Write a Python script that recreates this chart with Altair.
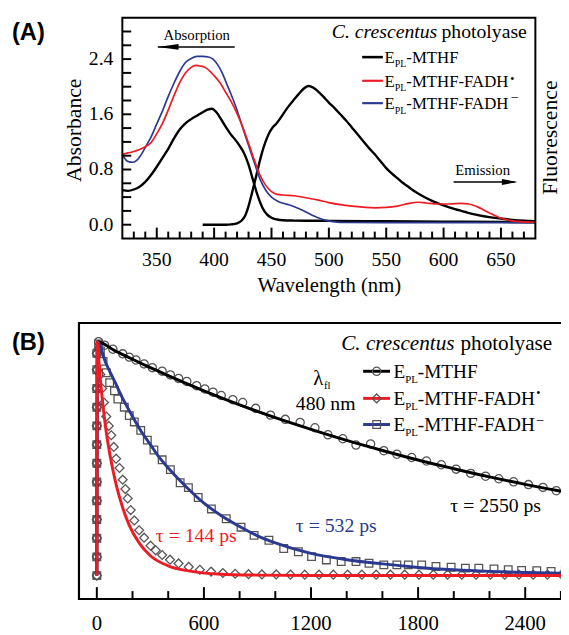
import altair as alt
import pandas as pd

# ---------------- Panel A : spectra ----------------
abs_mthf_wl = [320,325,330,335,340,345,350,355,360,365,370,375,380,385,390,395,398,402,406,410,
               414,418,422,426,430,434,438,442,446,450,455,460,470,480,500,550,600,650,680]
abs_mthf = [0.50,0.49,0.51,0.55,0.62,0.72,0.84,0.97,1.10,1.25,1.38,1.47,1.53,1.58,1.63,1.67,1.68,1.63,1.53,1.42,
            1.32,1.24,1.15,1.04,0.87,0.64,0.42,0.25,0.15,0.10,0.075,0.065,0.06,0.058,0.055,0.05,0.045,0.04,0.035]

abs_rad_wl = [320,325,330,335,340,345,350,355,360,365,370,375,380,384,388,392,396,400,405,410,415,420,425,430,
              435,440,445,450,455,460,470,480,490,500,510,520,530,540,550,560,570,578,585,595,605,615,622,630,
              640,650,660,670,680]
abs_rad = [1.02,1.04,1.06,1.09,1.13,1.19,1.32,1.47,1.66,1.87,2.06,2.20,2.28,2.31,2.30,2.28,2.23,2.16,2.06,1.92,1.78,1.61,1.41,1.18,
           0.94,0.72,0.57,0.48,0.44,0.43,0.42,0.39,0.36,0.32,0.29,0.27,0.255,0.245,0.25,0.27,0.31,0.325,0.315,0.30,0.30,0.31,0.30,0.255,
           0.17,0.095,0.055,0.04,0.035]

abs_ani_wl = [320,323,326,329,333,337,341,345,350,355,360,365,370,375,380,385,390,395,399,403,407,411,415,420,425,
              430,435,440,445,450,455,460,465,470,475,480,485,490,495,500,505,515,550,600,680]
abs_ani = [1.02,0.94,0.91,0.905,0.94,1.03,1.15,1.27,1.46,1.65,1.86,2.05,2.22,2.35,2.41,2.44,2.44,2.43,2.40,2.32,2.20,2.04,1.88,1.66,1.40,
           1.15,0.90,0.66,0.50,0.40,0.345,0.31,0.29,0.26,0.225,0.185,0.14,0.105,0.075,0.055,0.04,0.032,0.03,0.03,0.03]

em_mthf_wl = [390,400,410,415,420,424,427,430,433,436,439,442,445,448,451,454,458,462,466,470,474,478,482,486,490,495,500,
              505,510,515,520,525,530,535,540,545,550,555,560,565,570,575,580,590,600,610,620,630,640,650,660,670,680]
em_mthf = [0.0,0.0,0.0,0.005,0.02,0.06,0.13,0.27,0.46,0.66,0.87,1.06,1.21,1.33,1.41,1.46,1.55,1.65,1.74,1.82,1.90,1.97,2.01,1.99,1.94,1.86,1.77,
           1.69,1.60,1.51,1.41,1.31,1.21,1.11,1.02,0.92,0.82,0.74,0.67,0.60,0.54,0.48,0.43,0.345,0.28,0.225,0.18,0.14,0.11,0.09,0.07,0.058,0.052]

xA_labels = [350, 400, 450, 500, 550, 600, 650]
yA_labels = [0.0, 0.8, 1.6, 2.4]
xA_major = [350, 400, 450, 500, 550, 600, 650]
xA_minor = [330,340,360,370,380,390,410,420,430,440,460,470,480,490,510,520,530,540,560,570,580,590,610,620,630,640,660,670]
yA_ticks = [0.0,0.2,0.4,0.6,0.8,1.0,1.2,1.4,1.6,1.8,2.0,2.2,2.4,2.6,2.8]

# ---------------- Panel B : fluorescence decays ----------------
t_mthf = [0,0,0,0,0,0,0,0,0,0,0,0,0,
          10,44,90,145,182,219,265,311,366,412,458,504,559,605,651,697,762,817,890,973,
          1056,1139,1222,1295,1378,1452,1534,1608,1681,1764,1847,1930,2013,2095,2178,2252,2335,2418,2500,2574,2655]
v_mthf = [0.0,0.08,0.16,0.24,0.32,0.40,0.48,0.56,0.64,0.72,0.80,0.88,0.95,
          1.0,0.985,0.968,0.948,0.934,0.922,0.905,0.889,0.874,0.858,0.843,0.830,0.812,0.798,0.784,0.770,0.752,0.740,0.715,0.686,
          0.668,0.655,0.632,0.602,0.585,0.558,0.563,0.534,0.519,0.505,0.490,0.474,0.455,0.437,0.425,0.414,0.401,0.389,0.377,0.363,0.350]

t_rad = [0,0,0,0,0,0,0,0,0,0,0,0,0,
         10,20,30,40,53,67,81,95,108,127,145,160,173,190,210,237,265,301,330,366,
         410,458,515,577,640,706,775,850,925,1005,1085,1165,1245,1325,1405,1485,1565,1645,1725,1805,
         1885,1965,2045,2125,2205,2285,2365,2445,2525,2605,2685]
v_rad = [0.0,0.08,0.16,0.24,0.32,0.40,0.48,0.56,0.64,0.72,0.80,0.88,0.95,
         0.97,0.86,0.80,0.74,0.68,0.64,0.60,0.55,0.50,0.46,0.41,0.37,0.33,0.28,0.236,0.194,0.162,0.128,0.108,0.088,
         0.068,0.052,0.037,0.025,0.017,0.011,0.008,0.006,0.005,0.005,0.004,0.004,0.004,0.004,0.004,0.004,0.004,0.004,0.004,0.004,
         0.004,0.004,0.004,0.004,0.004,0.004,0.004,0.004,0.004,0.004,0.004]

t_ani = [0,0,0,0,0,0,0,0,0,0,0,0,0,
         10,20,35,53,72,99,118,154,182,210,246,283,320,366,412,467,513,568,642,725,
         808,881,964,1047,1129,1203,1286,1369,1452,1525,1608,1681,1745,1820,1900,1985,2065,2140,2225,2305,
         2380,2465,2545,2625]
v_ani = [0.0,0.08,0.16,0.24,0.32,0.40,0.48,0.56,0.64,0.72,0.80,0.88,0.95,
         0.99,0.96,0.916,0.867,0.825,0.79,0.755,0.72,0.684,0.657,0.621,0.579,0.537,0.495,0.453,0.397,0.376,0.334,0.285,0.243,
         0.207,0.172,0.151,0.116,0.102,0.081,0.067,0.060,0.060,0.053,0.046,0.046,0.046,0.046,0.039,0.036,0.032,0.032,0.028,0.025,
         0.022,0.021,0.018,0.018]

fit_mthf_t = [0,3,100,200,300,400,500,600,800,1000,1200,1400,1600,1800,2000,2200,2400,2600,2700]
fit_mthf_v = [0.0,1.0,0.962,0.925,0.889,0.855,0.822,0.79,0.73,0.675,0.625,0.578,0.535,0.494,0.457,0.422,0.39,0.361,0.347]
fit_rad_t = [0,3,15,30,50,75,108,145,182,237,300,400,514,697,900,1200,2700]
fit_rad_v = [0.0,1.0,0.88,0.76,0.63,0.51,0.39,0.29,0.215,0.14,0.085,0.042,0.02,0.006,0.002,0.0,0.0]
fit_ani_t = [0,3,50,100,150,200,250,300,350,400,500,600,700,800,900,1000,1200,1400,1600,1800,2000,2200,2400,2700]
fit_ani_v = [0.0,1.0,0.91,0.83,0.75,0.68,0.615,0.56,0.505,0.46,0.38,0.31,0.255,0.21,0.17,0.14,0.095,0.068,0.05,0.035,0.025,0.018,0.013,0.009]

xB_labels = [0, 600, 1200, 1800, 2400]
xB_major = [0, 600, 1200, 1800, 2400]
xB_minor = [200, 400, 800, 1000, 1400, 1600, 2000, 2200, 2600]

# ---------------- styling / layout ----------------
SERIF = "Liberation Serif"
SANS = "Liberation Sans"
RED = "#ed1c24"
BLUE = "#2b3990"
GRAY = "#555555"

CANVAS_W, CANVAS_H = 561, 627
# plot rectangles in canvas pixels (left, top, width, height)
A_L, A_T, WA, HA = 116, 5.3, 419, 224
B_L, B_T, WB, HB = 72, 315, 507, 280
xA_dom, yA_dom = [320, 680], [-0.2, 3.0]
xB_dom, yB_dom = [-100, 2700], [-0.1, 1.08]
xA = alt.Scale(domain=xA_dom, range=[A_L, A_L + WA], nice=False, zero=False)
yA = alt.Scale(domain=yA_dom, range=[A_T + HA, A_T], nice=False, zero=False)
xB = alt.Scale(domain=xB_dom, range=[B_L, B_L + WB], nice=False, zero=False)
yB = alt.Scale(domain=yB_dom, range=[B_T + HB, B_T], nice=False, zero=False)


def conv(dom, size, invert=False):
    lo, hi = dom
    if invert:
        return lambda p: hi - p * (hi - lo) / size
    return lambda p: lo + p * (hi - lo) / size


axA, ayA = conv(xA_dom, WA), conv(yA_dom, HA, True)
axB, ayB = conv(xB_dom, WB), conv(yB_dom, HB, True)


def line(xs, ys, xsc, ysc, color, sw):
    df = pd.DataFrame({"x": xs, "y": ys})
    return alt.Chart(df).mark_line(color=color, strokeWidth=sw, interpolate="monotone").encode(
        x=alt.X("x:Q", scale=xsc, axis=None), y=alt.Y("y:Q", scale=ysc, axis=None))


def frame(xdom, ydom, xsc, ysc, sw=2):
    df = pd.DataFrame({"x0": [xdom[0]], "x1": [xdom[1]], "y0": [ydom[0]], "y1": [ydom[1]]})
    return alt.Chart(df).mark_rect(fillOpacity=0, stroke="black", strokeWidth=sw).encode(
        x=alt.X("x0:Q", scale=xsc, axis=None), x2="x1:Q",
        y=alt.Y("y0:Q", scale=ysc, axis=None), y2="y1:Q")


def xticks(vals, xsc, ysc, y0, y1, sw=2):
    df = pd.DataFrame({"v": vals, "a": [y0] * len(vals), "b": [y1] * len(vals)})
    return alt.Chart(df).mark_rule(color="black", strokeWidth=sw).encode(
        x=alt.X("v:Q", scale=xsc, axis=None),
        y=alt.Y("a:Q", scale=ysc, axis=None), y2="b:Q")


def yticks(vals, xsc, ysc, x0, x1, sw=2):
    df = pd.DataFrame({"v": vals, "a": [x0] * len(vals), "b": [x1] * len(vals)})
    return alt.Chart(df).mark_rule(color="black", strokeWidth=sw).encode(
        y=alt.Y("v:Q", scale=ysc, axis=None),
        x=alt.X("a:Q", scale=xsc, axis=None), x2="b:Q")


def texts_data(df, xsc, ysc, **kw):
    return alt.Chart(df).mark_text(**kw).encode(
        x=alt.X("x:Q", scale=xsc, axis=None), y=alt.Y("y:Q", scale=ysc, axis=None),
        text="label:N",
        size=alt.Size("fs:Q", scale=None, legend=None),
        color=alt.Color("col:N", scale=None, legend=None))


def texts(rows, xsc, ysc, cx, cy, **kw):
    df = pd.DataFrame(rows, columns=["label", "px", "py", "fs", "col"])
    df["x"] = [cx(p) for p in df["px"]]
    df["y"] = [cy(p) for p in df["py"]]
    return texts_data(df, xsc, ysc, **kw)


def segs(rows, xsc, ysc, cx, cy):
    df = pd.DataFrame(rows, columns=["x0", "x1", "py", "col", "sw"])
    df["xa"] = [cx(p) for p in df["x0"]]
    df["xb"] = [cx(p) for p in df["x1"]]
    df["y"] = [cy(p) for p in df["py"]]
    return alt.Chart(df).mark_rule().encode(
        x=alt.X("xa:Q", scale=xsc, axis=None), x2="xb:Q",
        y=alt.Y("y:Q", scale=ysc, axis=None),
        color=alt.Color("col:N", scale=None, legend=None),
        strokeWidth=alt.StrokeWidth("sw:Q", scale=None, legend=None))


# ---------- Panel A ----------
xlabA = pd.DataFrame({"label": [str(v) for v in xA_labels], "x": xA_labels,
                      "y": [ayA(252)] * len(xA_labels), "fs": [20] * len(xA_labels),
                      "col": ["black"] * len(xA_labels)})
ylabA = pd.DataFrame({"label": [f"{v:.1f}" for v in yA_labels], "x": [axA(-9)] * len(yA_labels),
                      "y": yA_labels, "fs": [20] * len(yA_labels), "col": ["black"] * len(yA_labels)})

layersA = [
    line(abs_mthf_wl, abs_mthf, xA, yA, "black", 2.4),
    line(em_mthf_wl, em_mthf, xA, yA, "black", 2.4),
    line(abs_ani_wl, abs_ani, xA, yA, BLUE, 1.7),
    line(abs_rad_wl, abs_rad, xA, yA, RED, 1.7),
    xticks(xA_major, xA, yA, -0.2, -0.2 + 11 * 3.2 / HA),
    xticks(xA_minor, xA, yA, -0.2, -0.2 + 7 * 3.2 / HA),
    yticks(yA_ticks, xA, yA, 320, 320 + 9 * 360 / WA),
    frame(xA_dom, yA_dom, xA, yA),
    texts_data(xlabA, xA, yA, align="center", baseline="alphabetic", font=SERIF),
    texts_data(ylabA, xA, yA, align="right", baseline="middle", font=SERIF),
    texts([("Wavelength (nm)", 210, 278.4, 21, "black")], xA, yA, axA, ayA,
          align="center", baseline="alphabetic", font=SERIF),
    texts([("Absorbance", -42.3, 114.2, 22, "black")], xA, yA, axA, ayA,
          align="center", baseline="alphabetic", font=SERIF, angle=270),
    # arrows
    segs([(36, 114, 29.7, "black", 1.5), (336, 398, 166.7, "black", 1.5)], xA, yA, axA, ayA),
]
arrow_left = pd.DataFrame({"x": [axA(46.5)], "y": [ayA(29.7)]})
arrow_right = pd.DataFrame({"x": [axA(393)], "y": [ayA(166.7)]})
layersA += [
    alt.Chart(arrow_left).mark_point(shape="M -1 0 L 1 -0.28 L 1 0.28 Z", filled=True, size=441,
                                     color="black", opacity=1, strokeWidth=0).encode(
        x=alt.X("x:Q", scale=xA, axis=None), y=alt.Y("y:Q", scale=yA, axis=None)),
    alt.Chart(arrow_right).mark_point(shape="M 1 0 L -1 -0.38 L -1 0.38 Z", filled=True, size=256,
                                      color="black", opacity=1, strokeWidth=0).encode(
        x=alt.X("x:Q", scale=xA, axis=None), y=alt.Y("y:Q", scale=yA, axis=None)),
]
legA_rows = [40, 64, 86.7]
layersA += [
    segs([(243.3, 264.3, legA_rows[0], "black", 2.6),
          (243.3, 264.3, legA_rows[1], RED, 2.2),
          (243.3, 264.3, legA_rows[2], BLUE, 2.2)], xA, yA, axA, ayA),
    texts([("C. crescentus", 319.5, 21, 20, "black")], xA, yA, axA, ayA,
          align="right", baseline="alphabetic", font=SERIF, fontStyle="italic"),
    texts([("photolyase", 323.7, 21, 20, "black"),
           ("E", 266, legA_rows[0] + 6, 17, "black"),
           ("E", 266, legA_rows[1] + 6, 17, "black"),
           ("E", 266, legA_rows[2] + 6, 17, "black"),
           ("PL", 276.4, legA_rows[0] + 10.5, 10, "black"),
           ("PL", 276.4, legA_rows[1] + 10.5, 10, "black"),
           ("PL", 276.4, legA_rows[2] + 10.5, 10, "black"),
           ("-MTHF", 288.1, legA_rows[0] + 6, 17, "black"),
           ("-MTHF-FADH", 288.1, legA_rows[1] + 6, 17, "black"),
           ("-MTHF-FADH", 288.1, legA_rows[2] + 6, 17, "black"),
           ("•", 393.5, 66.1, 12, "black"),
           ("−", 394, 85.2, 14, "black")], xA, yA, axA, ayA,
          align="left", baseline="alphabetic", font=SERIF),
    texts([("Absorption", 75.5, 22.7, 15, "black"),
           ("Emission", 365.5, 159.4, 15, "black")], xA, yA, axA, ayA,
          align="center", baseline="alphabetic", font=SERIF),
    texts([("(A)", -112, 22.7, 24, "black")], xA, yA, axA, ayA,
          align="left", baseline="alphabetic", font=SANS, fontWeight="bold"),
    texts([("Fluorescence", 440.5, 121.7, 22, "black")], xA, yA, axA, ayA,
          align="center", baseline="alphabetic", font=SERIF, angle=270),
]


# ---------- Panel B ----------
def markers(ts, vs, shape, size):
    df = pd.DataFrame({"t": ts, "v": vs})
    return alt.Chart(df).mark_point(shape=shape, filled=False, size=size, color=GRAY,
                                    strokeWidth=1.3, opacity=1).encode(
        x=alt.X("t:Q", scale=xB, axis=None), y=alt.Y("v:Q", scale=yB, axis=None))


legB_rows = [49, 76.5, 103]
legB_marks = pd.DataFrame({
    "x": [axB(302)] * 3,
    "y": [ayB(r) for r in legB_rows],
    "shp": ["circle", "diamond", "square"],
    "sz": [69, 81, 60],
})
xlabB = pd.DataFrame({"label": [str(v) for v in xB_labels], "x": xB_labels,
                      "y": [ayB(311.2)] * len(xB_labels), "fs": [21] * len(xB_labels),
                      "col": ["black"] * len(xB_labels)})

layersB = [
    markers(t_mthf, v_mthf, "circle", 69),
    markers(t_ani, v_ani, "square", 60),
    markers(t_rad, v_rad, "diamond", 81),
    line(fit_mthf_t, fit_mthf_v, xB, yB, "black", 3),
    line(fit_ani_t, fit_ani_v, xB, yB, BLUE, 3),
    line(fit_rad_t, fit_rad_v, xB, yB, RED, 3),
    xticks(xB_major, xB, yB, -0.1, -0.1 + 12 * 1.18 / HB),
    xticks(xB_minor, xB, yB, -0.1, -0.1 + 8 * 1.18 / HB),
    frame(xB_dom, yB_dom, xB, yB, 2.2),
    texts_data(xlabB, xB, yB, align="center", baseline="alphabetic", font=SERIF),
    segs([(288.3, 315.5, legB_rows[0], "black", 3),
          (288.3, 315.5, legB_rows[1], RED, 3),
          (288.3, 315.5, legB_rows[2], BLUE, 3)], xB, yB, axB, ayB),
    alt.Chart(legB_marks).mark_point(filled=False, color=GRAY, strokeWidth=1.3, opacity=1).encode(
        x=alt.X("x:Q", scale=xB, axis=None), y=alt.Y("y:Q", scale=yB, axis=None),
        shape=alt.Shape("shp:N", scale=None, legend=None),
        size=alt.Size("sz:Q", scale=None, legend=None)),
    texts([("C. crescentus", 381, 27, 21.5, "black")], xB, yB, axB, ayB,
          align="right", baseline="alphabetic", font=SERIF, fontStyle="italic"),
    texts([("photolyase", 387, 27, 21.5, "black"),
           ("E", 319, legB_rows[0] + 7, 19.5, "black"),
           ("E", 319, legB_rows[1] + 7, 19.5, "black"),
           ("E", 319, legB_rows[2] + 7, 19.5, "black"),
           ("PL", 330.9, legB_rows[0] + 12, 11, "black"),
           ("PL", 330.9, legB_rows[1] + 12, 11, "black"),
           ("PL", 330.9, legB_rows[2] + 12, 11, "black"),
           ("-MTHF", 343.7, legB_rows[0] + 7, 19.5, "black"),
           ("-MTHF-FADH", 343.7, legB_rows[1] + 7, 19.5, "black"),
           ("-MTHF-FADH", 343.7, legB_rows[2] + 7, 19.5, "black"),
           ("•", 464, 75.4, 12, "black"),
           ("−", 463.5, 103.2, 15, "black"),
           ("λ", 237.7, 63, 21, "black"),
           ("fl", 248.5, 67, 11, "black"),
           ("480 nm", 220, 88, 20, "black"),
           ("τ = 2550 ps", 376.7, 192, 20, "black"),
           ("τ = 532 ps", 220, 212, 20, BLUE),
           ("τ = 144 ps", 78, 222, 20, RED)], xB, yB, axB, ayB,
          align="left", baseline="alphabetic", font=SERIF),
    texts([("(B)", -68, 27, 24, "black")], xB, yB, axB, ayB,
          align="left", baseline="alphabetic", font=SANS, fontWeight="bold"),
]

chart = alt.layer(*(layersA + layersB)).resolve_scale(
    x="independent", y="independent"
).properties(
    width=CANVAS_W, height=CANVAS_H,
    autosize=alt.AutoSizeParams(type="none"),
    padding=0,
    background="white",
).configure_view(stroke="transparent")

chart.save("out.html", embed_options={"renderer": "svg", "actions": False})
